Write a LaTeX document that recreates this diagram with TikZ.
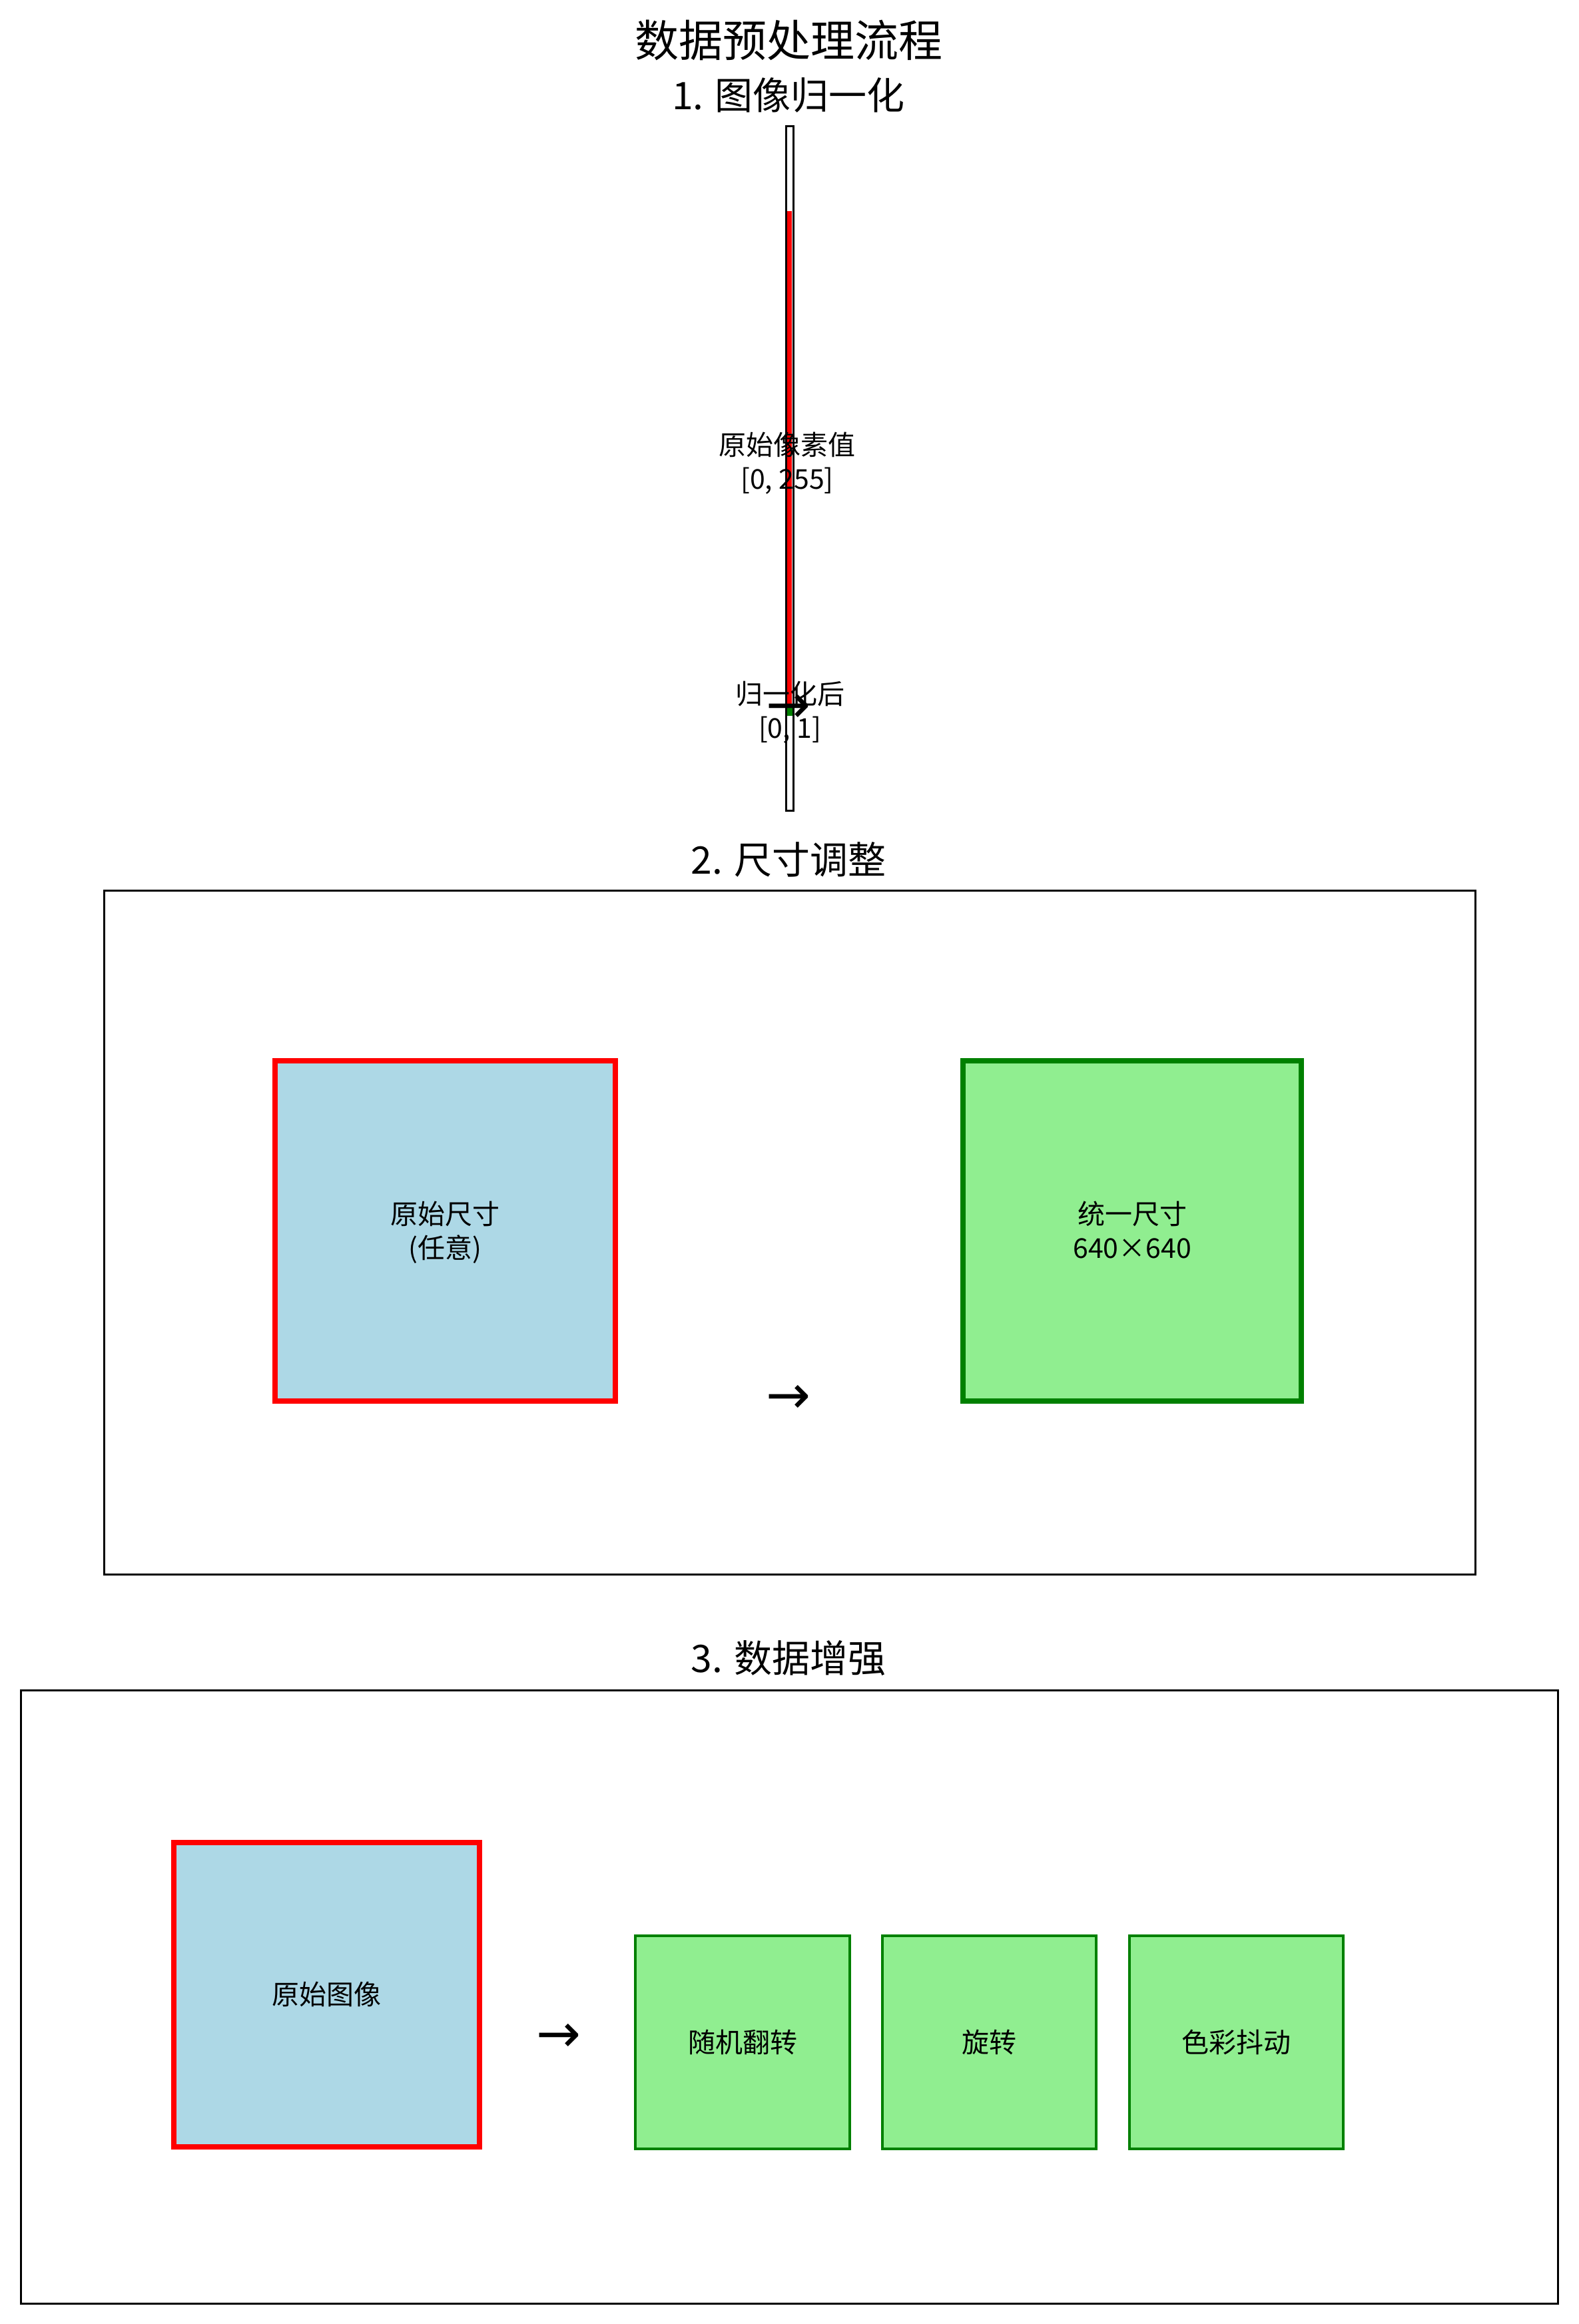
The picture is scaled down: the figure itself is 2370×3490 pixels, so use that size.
\documentclass[tikz,border=0pt]{standalone}
\usepackage{fontspec}
\setmainfont{Noto Sans CJK SC}
\newfontfamily\arrowfont{DejaVu Sans}
\definecolor{lblue}{HTML}{ADD8E6}
\definecolor{lgreen}{HTML}{90EE90}
\definecolor{dgreen}{HTML}{008000}
\tikzset{
  lbl/.style={inner sep=0pt, text height=36.1pt, text depth=4.9pt, font=\fontsize{41}{51}\selectfont, align=center},
  lbltwo/.style={lbl, text height=87.1pt},
  sectitle/.style={inner sep=0pt, text height=50.2pt, text depth=6.8pt, font=\fontsize{57}{64}\selectfont},
  maintitle/.style={inner sep=0pt, text height=58.1pt, text depth=7.9pt, font=\fontsize{66}{72}\selectfont},
  frame/.style={draw=black, line width=3pt},
  srcbox/.style={draw=red, fill=lblue, line width=8pt},
  dstbox/.style={draw=dgreen, fill=lgreen, line width=8pt},
  augbox/.style={draw=dgreen, fill=lgreen, line width=4pt},
  txtarrow/.style={inner sep=0pt, anchor=base, font=\arrowfont\fontsize{80}{90}\selectfont}
}
\begin{document}
\begin{tikzpicture}[x=1pt,y=-1pt]
\useasboundingbox[fill=white] (0,0) rectangle (2370,3490);

% titles
\node[maintitle] (title) at (1184,60) {数据预处理流程};
\node[sectitle] (s1) at (1184,143) {1. 图像归一化};

% section 1: normalisation bar
\draw[frame] (1180,189) rectangle (1191,1217);
\fill[red] (1181.5,317) rectangle (1188.5,1063);
\fill[dgreen] (1181.5,1063) rectangle (1189.5,1075);
\node[lbltwo] (raw) at (1182,693) {原始像素值\\{[0, 255]}};
\node[lbltwo] (norm) at (1186,1067) {归一化后\\{[0, 1]}};
\node[txtarrow] (a1) at (1184,1085) {→};

% section 2: resize
\node[sectitle] (s2) at (1184,1291) {2. 尺寸调整};
\draw[frame] (156,1337) rectangle (2215,2364);
\draw[srcbox] (413,1593) rectangle (924,2104);
\node[lbltwo] (orig) at (668,1848) {原始尺寸\\(任意)};
\draw[dstbox] (1446,1593) rectangle (1954,2104);
\node[lbltwo] (uni) at (1700,1848) {统一尺寸\\640×640};
\node[txtarrow] (a2) at (1184,2122) {→};

% section 3: augmentation
\node[sectitle] (s3) at (1184,2490) {3. 数据增强};
\draw[frame] (31,2538) rectangle (2339,3459);
\draw[srcbox] (261,2767) rectangle (720,3224);
\node[lbl] (img) at (490,2995) {原始图像};
\node[txtarrow] (a3) at (839,3081) {→};
\draw[augbox] (954,2907) rectangle (1276,3227);
\node[lbl] (flip) at (1115,3067) {随机翻转};
\draw[augbox] (1325,2907) rectangle (1646,3227);
\node[lbl] (rot) at (1485,3067) {旋转};
\draw[augbox] (1696,2907) rectangle (2017,3227);
\node[lbl] (jit) at (1856,3067) {色彩抖动};
\end{tikzpicture}
\end{document}
